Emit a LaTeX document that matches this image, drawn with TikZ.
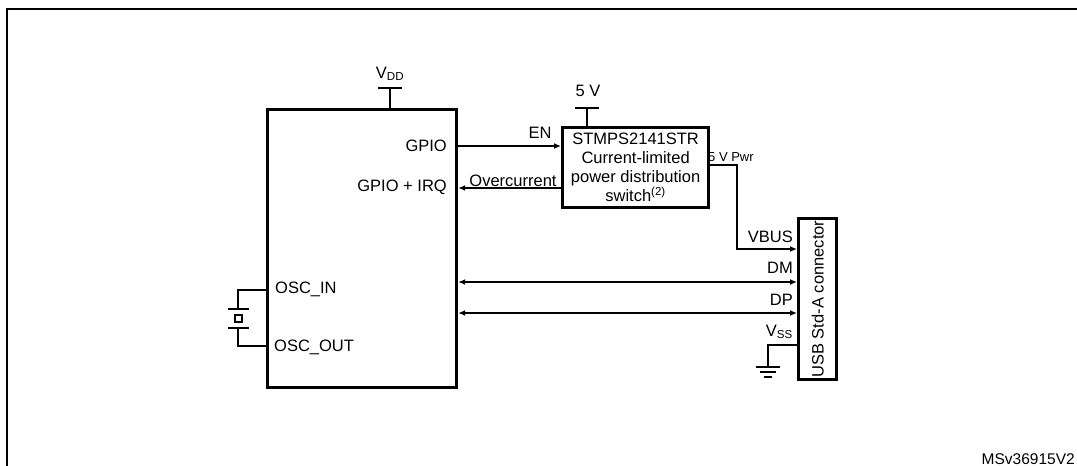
\documentclass[tikz,border=0pt]{standalone}
\usepackage{fontspec}
\setmainfont{Liberation Sans}
\usetikzlibrary{arrows.meta}
\begin{document}
\begin{tikzpicture}[x=1pt,y=-1pt,
  box/.style={draw,line width=3.2pt,inner sep=0pt,anchor=north west},
  wire/.style={line width=1.6pt},
  tip/.tip={Latex[length=7pt,width=6pt]},
  arr/.style={wire,-tip},
  biarr/.style={wire,tip-tip},
  lbl/.style={font=\fontsize{16.5}{19}\selectfont,inner sep=0pt},
  small/.style={font=\fontsize{13}{15}\selectfont,inner sep=0pt}]
\useasboundingbox (0,0) rectangle (1077,466);
\clip (0,0) rectangle (1077,466);
\draw[line width=2pt] (7,9) rectangle (1110,500);

% boxes
\node[box,minimum width=189pt,minimum height=278pt] (mcu) at (266,108) {};
\node[box,minimum width=146pt,minimum height=80pt,align=center,
      font=\fontsize{16.5}{19}\selectfont] (sw) at (561,126)
      {STMPS2141STR\\Current-limited\\power distribution\\switch\textsuperscript{(2)}};
\node[box,minimum width=38pt,minimum height=161pt] (usb) at (797,217) {};
\node[lbl,rotate=90] (usbt) at (usb.center) {USB Std-A connector};

% supplies
\coordinate (vdd) at (390,88);
\draw[wire] (vdd |- mcu.north) -- (vdd);
\draw[line width=2pt] ([xshift=-12pt]vdd) -- ([xshift=12pt]vdd);
\node[lbl] (vddl) at (390,74) {V\textsubscript{DD}};

\coordinate (fivev) at (587,108);
\draw[wire] (fivev |- sw.north) -- (fivev);
\draw[line width=2pt] ([xshift=-12pt]fivev) -- ([xshift=12pt]fivev);
\node[lbl] (fivevl) at (588,91) {5 V};

% MCU pin labels
\node[lbl,anchor=east] (gpiol) at (447,146) {GPIO};
\node[lbl,anchor=east] (irql) at (447,187) {GPIO + IRQ};
\node[lbl,anchor=west] (oscinl) at (275,289) {OSC\_IN};
\node[lbl,anchor=west] (oscoutl) at (274,347) {OSC\_OUT};

% EN / overcurrent
\coordinate (en) at (455,146);
\draw[arr] (en) -- (en -| sw.west);
\node[lbl] (enl) at (540,133) {EN};
\coordinate (oc) at (561,188);
\draw[arr] (oc) -- (oc -| mcu.east);
\node[lbl] (ocl) at (513,181) {Overcurrent};

% 5 V Pwr to VBUS
\coordinate (pw) at (707,165);
\draw[arr] (pw) -- (737,165) |- (usb.west |- 0,249);
\node[small,anchor=west] (pwl) at (708,157) {5 V Pwr};

% data lines
\draw[biarr] (mcu.east |- 0,282) -- (usb.west |- 0,282);
\draw[biarr] (mcu.east |- 0,313) -- (usb.west |- 0,313);

% USB labels
\node[lbl,anchor=east] (vbusl) at (793,237) {VBUS};
\node[lbl,anchor=east] (dml) at (793,268) {DM};
\node[lbl,anchor=east] (dpl) at (793,300) {DP};
\node[lbl,anchor=east] (vssl) at (793,332) {V\textsubscript{SS}};

% ground
\coordinate (gnd) at (768,367);
\draw[wire] (usb.west |- 0,345) -| (gnd);
\draw[wire] ([xshift=-12pt]gnd) -- ([xshift=12pt]gnd);
\draw[wire] ([xshift=-8pt,yshift=-5pt]gnd) -- ([xshift=8pt,yshift=-5pt]gnd);
\draw[wire] ([xshift=-4pt,yshift=-10pt]gnd) -- ([xshift=4pt,yshift=-10pt]gnd);

% crystal
\draw[wire] (mcu.west |- 0,290) -| (238,309);
\draw[wire] (228,309) -- (249,309);
\draw[wire] (235,315) rectangle (242,322);
\draw[wire] (228,328) -- (249,328);
\draw[wire] (238,328) |- (mcu.west |- 0,346);

\node[font=\fontsize{15.5}{18}\selectfont,inner sep=0pt,anchor=east] (ref) at (1075,459) {MSv36915V2};
\end{tikzpicture}
\end{document}
